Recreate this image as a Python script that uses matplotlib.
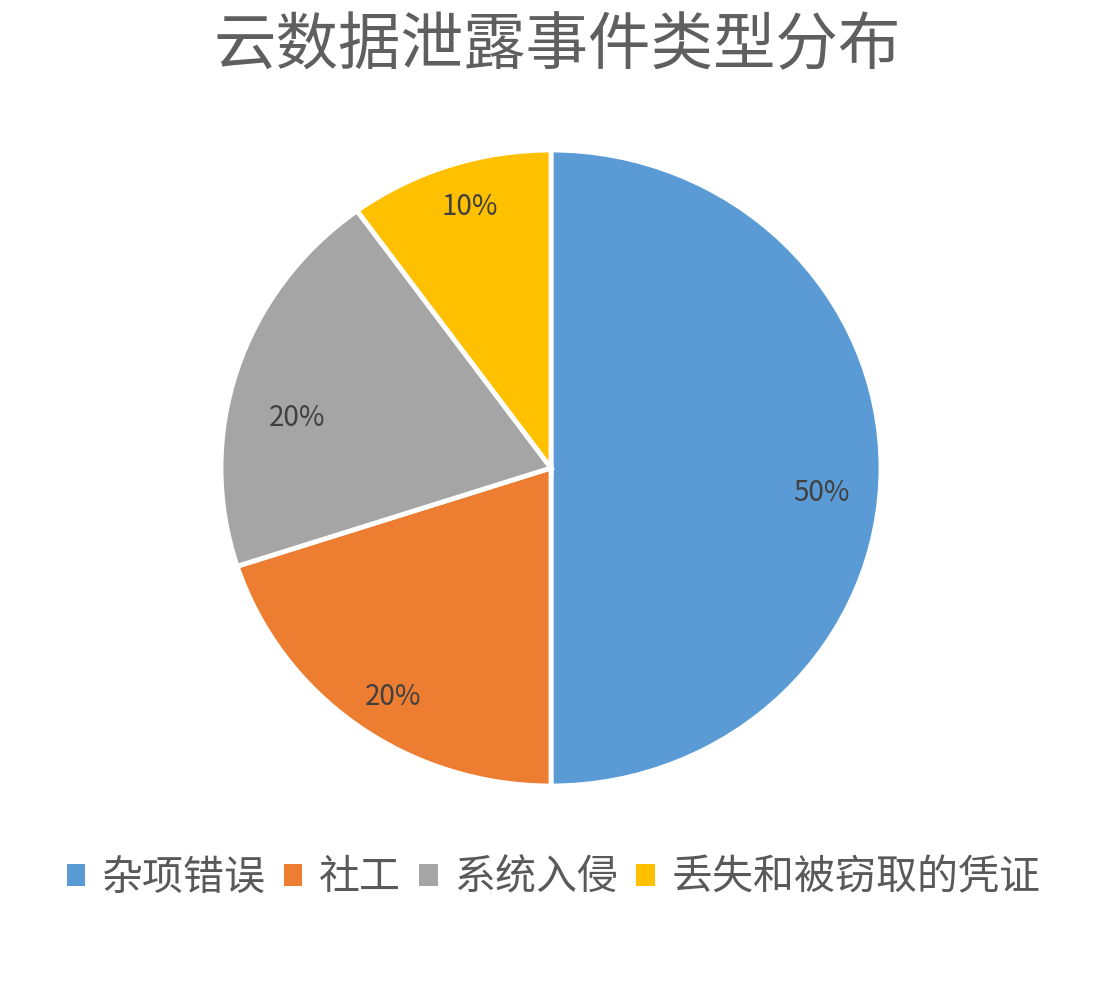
import matplotlib
matplotlib.use("Agg")
import matplotlib.pyplot as plt
from matplotlib.patches import Patch

plt.rcParams['font.family'] = ['Noto Sans CJK SC', 'DejaVu Sans']

title = "云数据泄露事件类型分布"
categories = ["杂项错误", "社工", "系统入侵", "丢失和被窃取的凭证"]
values = [50, 20, 20, 10]
colors = ["#5B9BD5", "#ED7D31", "#A5A5A5", "#FFC000"]
# small label nudges (axes data units) to mimic the original label placement
label_dx = [-0.01, 0.01, 0.02, 0.01]
label_dy = [-0.08, -0.05, -0.10, 0.03]

W, H = 1096, 984
fig = plt.figure(figsize=(W / 100, H / 100), dpi=100)
cx, cy, rx, ry = 551, 468, 330, 318
ax = fig.add_axes([(cx - rx) / W, (H - cy - ry) / H, 2 * rx / W, 2 * ry / H])

wedges, texts, autotexts = ax.pie(
    values, colors=colors, startangle=90, counterclock=False,
    autopct=lambda p: f"{p:.0f}%", pctdistance=0.83,
    wedgeprops=dict(edgecolor="white", linewidth=3.5),
    textprops=dict(color="#404040", fontsize=20))
for t, dx, dy in zip(autotexts, label_dx, label_dy):
    x, y = t.get_position()
    t.set_position((x + dx, y + dy))
ax.set_aspect('auto')
ax.set_xlim(-1.0, 1.0)
ax.set_ylim(-1.0, 1.0)

fig.text(0.508, 1 - 46 / H, title, ha="center", va="center",
         fontsize=45, color="#5f5f5f")

handles = [Patch(facecolor=c, edgecolor="none") for c in colors]
fig.legend(handles, categories, loc="center", bbox_to_anchor=(0.505, 1 - 878 / H),
           ncol=4, frameon=False, labelcolor="#595959",
           prop=dict(size=29.5),
           handlelength=0.45, handleheight=0.45, handletextpad=0.4,
           columnspacing=0.45)

fig.savefig("out.png", dpi=100, facecolor="white")
